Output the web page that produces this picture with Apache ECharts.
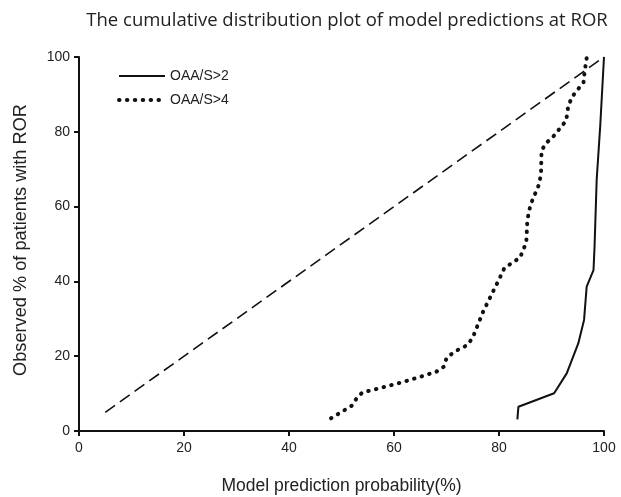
<!DOCTYPE html>
<html>
<head>
<meta charset="utf-8">
<script src="https://cdn.jsdelivr.net/npm/echarts@6/dist/echarts.min.js"></script>
<style>
  html, body { margin: 0; padding: 0; background: #fff; }
  #chart { width: 621px; height: 497px; }
</style>
</head>
<body>
<div id="chart"></div>
<script>
// Axis ticks
const xTicks = [0, 20, 40, 60, 80, 100];
const yTicks = [0, 20, 40, 60, 80, 100];

// Reference diagonal (ideal calibration)
const refX = [5, 100];
const refY = [5, 100];

// OAA/S>2 cumulative curve: prediction probability (%) vs observed %
const s2X = [83.5, 83.7, 90.5, 92.9, 95.1, 96.2, 96.7, 98.0, 98.2, 98.6, 99.3, 100];
const s2Y = [3.1, 6.5, 10.1, 15.4, 23.4, 29.7, 38.6, 43.0, 49.3, 67.0, 82.0, 100];

// OAA/S>4 cumulative curve
const s4X = [48.0, 52.0, 53.0, 54.0, 56.0, 62.0, 68.0, 69.5, 70.0, 71.5, 74.0, 75.0, 77.0, 80.0, 81.0, 82.5, 84.0, 85.2, 85.4, 86.0, 87.5, 88.0, 88.1, 89.0, 90.5, 92.8, 93.2, 94.0, 95.0, 96.1, 96.3, 96.7];
const s4Y = [3.4, 6.8, 9.0, 10.3, 11.0, 13.2, 15.8, 17.2, 19.5, 21.2, 23.0, 25.0, 32.0, 40.5, 43.5, 45.0, 46.3, 50.5, 56.5, 60.5, 65.5, 68.5, 75.0, 77.0, 79.0, 83.0, 87.0, 89.5, 91.3, 93.2, 96.0, 99.7];

const seriesNames = ['OAA/S>2', 'OAA/S>4'];

const zip = (xs, ys) => xs.map((x, i) => [x, ys[i]]);

const SANS = '"Liberation Sans", Arial, sans-serif';
const axisFont = { fontFamily: SANS, fontSize: 14, color: '#222' };

const solidLine = { color: '#111', width: 2 };
const dottedLine = { color: '#111', width: 4, type: [0.5, 7.4], cap: 'round' };

const chart = echarts.init(document.getElementById('chart'), null, { renderer: 'canvas' });
chart.setOption({
  animation: false,
  backgroundColor: '#fff',
  title: {
    text: 'The cumulative distribution plot of model predictions at ROR',
    left: 342, top: 6, textAlign: 'center',
    textStyle: { fontFamily: '"Open Sans", sans-serif', fontWeight: 'normal', fontSize: 18.5, color: '#222' }
  },
  grid: { left: 79, right: 17, top: 57, bottom: 66, containLabel: false, outerBoundsMode: 'none' },
  legend: {
    data: [
      { name: seriesNames[0], lineStyle: solidLine },
      { name: seriesNames[1], lineStyle: dottedLine }
    ],
    orient: 'vertical',
    left: 112, top: 64,
    itemWidth: 46, itemHeight: 12, itemGap: 10,
    itemStyle: { opacity: 0 },
    textStyle: { fontFamily: SANS, fontSize: 14, color: '#222' }
  },
  xAxis: {
    type: 'value', min: 0, max: 100, interval: 20,
    name: 'Model prediction probability(%)',
    nameLocation: 'middle', nameGap: 46,
    nameTextStyle: { fontFamily: SANS, fontSize: 17.5, color: '#222' },
    axisLine: { show: true, lineStyle: { color: '#111', width: 2 } },
    axisTick: { show: true, length: 5, lineStyle: { color: '#111', width: 2 } },
    axisLabel: Object.assign({ margin: 10 }, axisFont),
    splitLine: { show: false }
  },
  yAxis: {
    type: 'value', min: 0, max: 100, interval: 20,
    name: 'Observed % of patients with ROR',
    nameLocation: 'middle', nameGap: 49,
    nameTextStyle: { fontFamily: SANS, fontSize: 18.2, color: '#222', padding: [0, 0, 0, 8] },
    axisLine: { show: true, lineStyle: { color: '#111', width: 2 } },
    axisTick: { show: true, length: 5, lineStyle: { color: '#111', width: 2 } },
    axisLabel: Object.assign({ margin: 9 }, axisFont),
    splitLine: { show: false }
  },
  series: [
    {
      type: 'line', data: zip(refX, refY), symbol: 'none', silent: true,
      lineStyle: { color: '#111', width: 1.6, type: [12, 6] }
    },
    {
      name: seriesNames[0], type: 'line', data: zip(s2X, s2Y), symbol: 'none',
      itemStyle: { color: '#111' },
      lineStyle: solidLine
    },
    {
      name: seriesNames[1], type: 'line', data: zip(s4X, s4Y), symbol: 'none',
      itemStyle: { color: '#111' },
      lineStyle: dottedLine
    }
  ]
});
</script>
</body>
</html>
